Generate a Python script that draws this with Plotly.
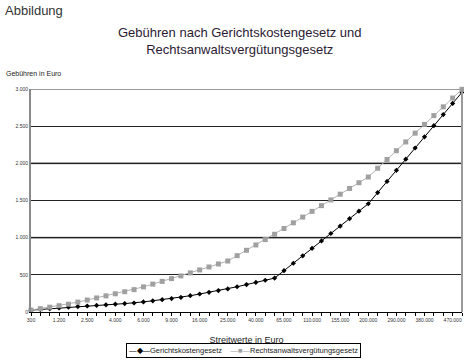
import plotly.graph_objects as go

streitwerte = [300, 600, 900, 1200, 1500, 2000, 2500, 3000, 3500, 4000, 4500, 5000,
               6000, 7000, 8000, 9000, 10000, 13000, 16000, 19000, 22000, 25000,
               30000, 35000, 40000, 45000, 50000, 65000, 80000, 95000, 110000,
               125000, 140000, 155000, 170000, 185000, 200000, 230000, 260000,
               290000, 320000, 350000, 380000, 410000, 440000, 470000, 500000]
gkg = [25, 35, 45, 55, 65, 73, 81, 89, 97, 105, 113, 121, 136, 151, 166, 181, 196,
       219, 242, 265, 288, 311, 340, 369, 398, 427, 456, 556, 656, 756, 856, 956,
       1056, 1156, 1256, 1356, 1456, 1606, 1756, 1906, 2056, 2206, 2356, 2506,
       2656, 2806, 2956]
rvg = [25, 45, 65, 85, 105, 133, 161, 189, 217, 245, 273, 301, 338, 375, 412, 449,
       486, 526, 566, 606, 646, 686, 758, 830, 902, 974, 1046, 1123, 1200, 1277,
       1354, 1431, 1508, 1585, 1662, 1739, 1816, 1934, 2052, 2170, 2288, 2406,
       2524, 2642, 2760, 2878, 2996]
series_names = ["Gerichtskostengesetz", "Rechtsanwaltsvergütungsgesetz"]
label_every = 3
y_ticks = [0, 500, 1000, 1500, 2000, 2500, 3000]
gray_grid = [1000, 2000]


def de(n):
    return f"{n:,}".replace(",", ".")


cats = [de(v) for v in streitwerte]
ticktext = [c if i % label_every == 0 and i < len(cats) - 1 else "" for i, c in enumerate(cats)]

FONT = "Liberation Sans, Arial, sans-serif"
PH = 223  # plot height in px
PW = 431
C_GKG = "#000000"
C_RVG = "#a0a0a0"

fig = go.Figure()
fig.add_trace(go.Scatter(
    x=cats, y=gkg, name=series_names[0], mode="lines+markers",
    line=dict(color=C_GKG, width=1),
    marker=dict(symbol="diamond", size=4, color=C_GKG),
    cliponaxis=False,
))
fig.add_trace(go.Scatter(
    x=cats, y=rvg, name=series_names[1], mode="lines+markers",
    line=dict(color="#b0b0b0", width=1),
    marker=dict(symbol="square", size=5, color=C_RVG),
    cliponaxis=False,
))

for g in gray_grid:
    fig.add_shape(type="line", xref="paper", yref="y", x0=0, x1=1, y0=g, y1=g,
                  line=dict(color="#8a8a8a", width=2), layer="below")

fig.update_layout(
    width=464, height=363,
    margin=dict(l=31, r=2, t=89, b=51, autoexpand=False),
    paper_bgcolor="white", plot_bgcolor="white",
    font=dict(family=FONT, color="#000000"),
    showlegend=False,
    xaxis=dict(type="category", range=[0, len(cats) - 1], tickmode="array",
               tickvals=cats, ticktext=ticktext, tickangle=0,
               ticks="outside", ticklen=3, tickcolor="#000", tickwidth=1,
               showline=True, linecolor="#000000", linewidth=1, showgrid=False,
               tickfont=dict(size=5, color="#333"),
               title=dict(text="Streitwerte in Euro", font=dict(size=9, color="#222"), standoff=14)),
    yaxis=dict(range=[0, 3000], tickvals=y_ticks, ticktext=[de(v) for v in y_ticks],
               showgrid=True, gridcolor="#222222", gridwidth=1, zeroline=False,
               showline=True, linecolor="#8a8a8a", linewidth=2, ticks="",
               tickfont=dict(size=5, color="#333")),
)
# right border and top line
fig.add_shape(type="line", xref="paper", yref="paper", x0=1, x1=1, y0=0, y1=1,
              line=dict(color="#9a9a9a", width=2))
fig.add_shape(type="line", xref="paper", yref="y", x0=0, x1=1, y0=3000, y1=3000,
              line=dict(color="#9a9a9a", width=2))

# legend box (compact, like the original)
legend_text = (f'<span style="color:{C_GKG}">—◆—</span>{series_names[0]}'
               f'    <span style="color:{C_RVG}">—■—</span>{series_names[1]}')
fig.add_annotation(text=legend_text, xref="paper", yref="paper",
                   x=(243 - 31) / PW, y=-(350 - 312) / PH, xanchor="center", yanchor="middle",
                   showarrow=False, font=dict(size=7.5, color="#222"),
                   bordercolor="#000000", borderwidth=1, borderpad=2, bgcolor="white")

fig.add_annotation(text="Abbildung", xref="paper", yref="paper", x=-28 / PW, y=1 + 78 / PH,
                   xanchor="left", yanchor="middle", showarrow=False,
                   font=dict(size=13, color="#333333"))
fig.add_annotation(text="Gebühren nach Gerichtskostengesetz und<br>Rechtsanwaltsvergütungsgesetz",
                   xref="paper", yref="paper", x=(240 - 31) / PW, y=1 + 48 / PH,
                   xanchor="center", yanchor="middle", showarrow=False,
                   font=dict(size=13, color="#2b1a33"))
fig.add_annotation(text="Gebühren in Euro", xref="paper", yref="paper", x=-27 / PW, y=1 + 16 / PH,
                   xanchor="left", yanchor="middle", showarrow=False,
                   font=dict(size=7, color="#222"))

fig.write_html("out.html")
